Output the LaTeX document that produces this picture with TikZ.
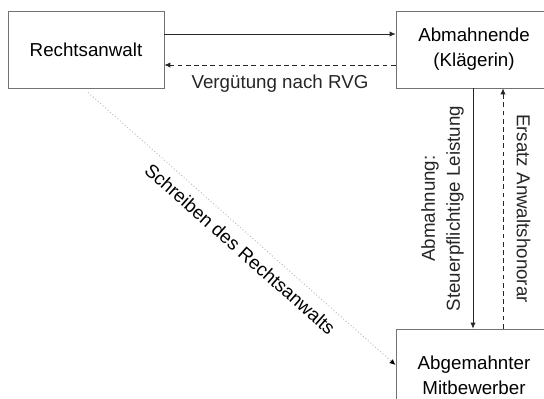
\documentclass[tikz,border=0pt]{standalone}
\usepackage{fontspec}
\setmainfont{Liberation Sans}
\usetikzlibrary{arrows.meta,calc}
\newcommand{\boxfont}{\fontsize{16}{21.3}\selectfont}
\tikzset{
  party/.style={draw=black!55,line width=0.8pt,minimum width=4.68cm,
                minimum height=2.31cm,align=center,font=\boxfont},
  flow/.style={-{Latex[length=5pt,width=4.5pt]},line width=0.6pt,black!85},
  payflow/.style={flow,dash pattern=on 4pt off 3pt},
  letterflow/.style={-{Latex[length=5pt,width=4.5pt,black]},dotted,line width=0.8pt,gray!55},
  flowlabel/.style={font=\boxfont,align=center},
}

\begin{document}
\begin{tikzpicture}
        \useasboundingbox (0,0) rectangle (16.32,-11.94);
        \node[party] (ra) at (2.58,-1.485) {Rechtsanwalt};
        \node[party] (kl) at (14.22,-1.485) {Abmahnende\\(Klägerin)};
        \node[party,minimum height=2.76cm] (mb) at (14.22,-11.25)
          {Abgemahnter\\Mitbewerber};
        % Auftrag und Honorar
        \draw[flow] ([yshift=0.465cm]ra.east) -- ([yshift=0.465cm]kl.west);
        \draw[payflow] ([yshift=-0.465cm]kl.west) -- ([yshift=-0.465cm]ra.west -| ra.east)
          node[flowlabel,midway,yshift=-0.57cm] {Vergütung nach RVG};
        % Abmahnung und Erstattung
        \draw[flow] ([xshift=-0.03cm]kl.south) -- ([xshift=-0.03cm]kl.south |- mb.north)
          node[flowlabel,midway,rotate=90,anchor=south,inner sep=0.27cm]
          {Abmahnung:\\Steuerpflichtige Leistung};
        \draw[payflow] ([xshift=0.87cm]kl.south |- mb.north) -- ([xshift=0.87cm]kl.south)
          node[flowlabel,midway,rotate=-90,anchor=south,inner sep=0.4cm]
          {Ersatz Anwaltshonorar};
        % Schreiben
        \draw[letterflow] ([xshift=0.06cm,yshift=-0.12cm]ra.south) -- ([yshift=0.3cm]mb.west)
          node[flowlabel,pos=0.53,sloped,below=0.15cm,text=black]
          {Schreiben des Rechtsanwalts};
\end{tikzpicture}
\end{document}
